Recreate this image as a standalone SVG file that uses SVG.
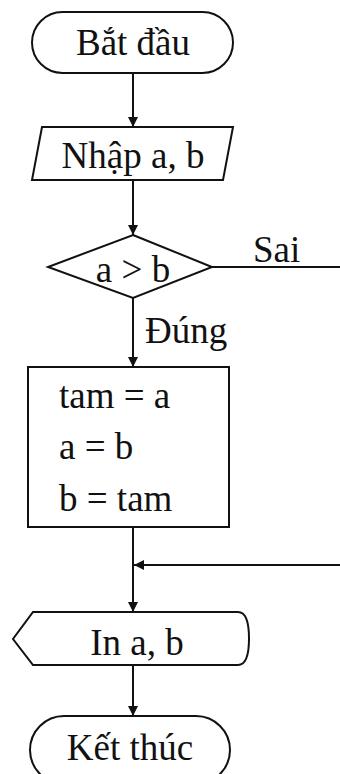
<svg xmlns="http://www.w3.org/2000/svg" width="340" height="774" viewBox="0 0 340 774">
<defs>
<marker id="arr" viewBox="0 0 10 10" refX="10" refY="5" markerWidth="10" markerHeight="10" markerUnits="userSpaceOnUse" orient="auto">
<path d="M0,0 L10,5 L0,10 Z" fill="#111"/>
</marker>
</defs>
<style>
.s{fill:#fff;stroke:#111;stroke-width:2}
.c{fill:none;stroke:#111;stroke-width:2}
.t{font-family:"Liberation Serif","Times New Roman",serif;font-size:37px;fill:#111}
.m{text-anchor:middle}
</style>
<rect width="340" height="774" fill="#fff"/>
<g id="connectors">
<line class="c" x1="133" y1="73" x2="133" y2="127" marker-end="url(#arr)"/>
<line class="c" x1="133" y1="180" x2="133" y2="235" marker-end="url(#arr)"/>
<line class="c" x1="133" y1="298" x2="133" y2="367" marker-end="url(#arr)"/>
<line class="c" x1="212" y1="267" x2="340" y2="267"/>
<line class="c" x1="133" y1="527" x2="133" y2="612" marker-end="url(#arr)"/>
<line class="c" x1="340" y1="565" x2="134" y2="565" marker-end="url(#arr)"/>
<line class="c" x1="133" y1="665" x2="133" y2="716" marker-end="url(#arr)"/>
<text class="t" x="253" y="262">Sai</text>
<text class="t" x="145" y="343">Đúng</text>
</g>
<g id="start">
<rect class="s" x="32" y="12" width="201" height="61" rx="30.5"/>
<text class="t m" x="133" y="55">Bắt đầu</text>
</g>
<g id="input">
<polygon class="s" points="42,127 233,127 223,180 32,180"/>
<text class="t m" x="133" y="168">Nhập a, b</text>
</g>
<g id="decision">
<polygon class="s" points="133,235 212,267 133,298 48,267"/>
<text class="t m" x="133" y="282">a &gt; b</text>
</g>
<g id="swap">
<rect class="s" x="28" y="367" width="201" height="160"/>
<text class="t" x="59" y="408">tam = a</text>
<text class="t" x="59" y="459">a = b</text>
<text class="t" x="59" y="511">b = tam</text>
</g>
<g id="output">
<path class="s" d="M33,612 L238,612 Q249,612 249,638.5 Q249,665 238,665 L33,665 L13,639 Z"/>
<text class="t m" x="137" y="655">In a, b</text>
</g>
<g id="end">
<rect class="s" x="30" y="716" width="200" height="68" rx="34"/>
<text class="t m" x="130" y="760">Kết thúc</text>
</g>
</svg>
